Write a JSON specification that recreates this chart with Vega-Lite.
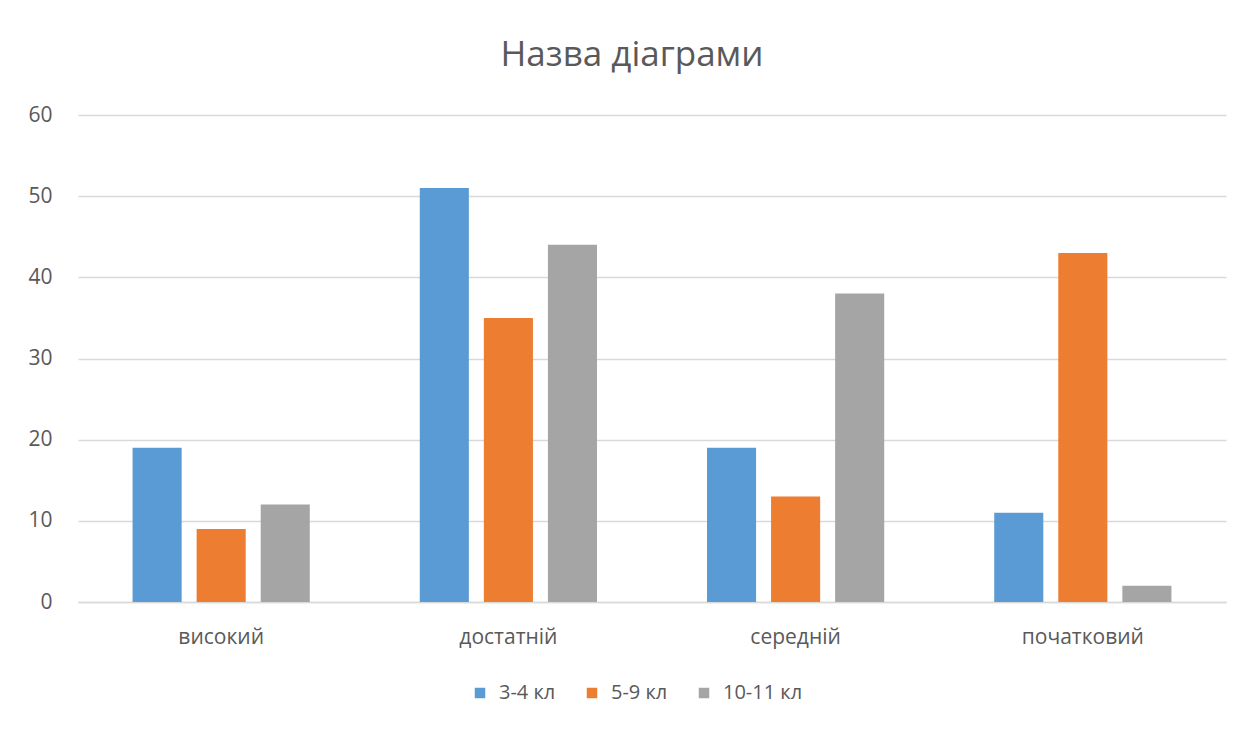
{
  "$schema": "https://vega.github.io/schema/vega-lite/v6.json",
  "autosize": "none",
  "width": 1148,
  "height": 487,
  "padding": {"left": 78, "top": 115, "right": 31, "bottom": 132},
  "background": "white",
  "title": {"text": "Назва діаграми", "fontSize": 35, "font": "Open Sans", "fontWeight": "normal", "color": "#595959", "anchor": "middle", "offset": 31, "dx": -20},
  "data": {"values": [
    {"level": "високий", "group": "3-4 кл", "value": 19},
    {"level": "високий", "group": "5-9 кл", "value": 9},
    {"level": "високий", "group": "10-11 кл", "value": 12},
    {"level": "достатній", "group": "3-4 кл", "value": 51},
    {"level": "достатній", "group": "5-9 кл", "value": 35},
    {"level": "достатній", "group": "10-11 кл", "value": 44},
    {"level": "середній", "group": "3-4 кл", "value": 19},
    {"level": "середній", "group": "5-9 кл", "value": 13},
    {"level": "середній", "group": "10-11 кл", "value": 38},
    {"level": "початковий", "group": "3-4 кл", "value": 11},
    {"level": "початковий", "group": "5-9 кл", "value": 43},
    {"level": "початковий", "group": "10-11 кл", "value": 2}
  ]},
  "mark": {"type": "bar"},
  "encoding": {
    "x": {"field": "level", "type": "nominal", "sort": ["високий", "достатній", "середній", "початковий"],
      "scale": {"paddingInner": 0.383, "paddingOuter": 0.19},
      "axis": {"title": null, "labelAngle": 0, "labelFontSize": 21, "labelFont": "Open Sans", "labelColor": "#595959", "ticks": false, "domainColor": "#d9d9d9", "domainWidth": 1.5, "labelPadding": 24}},
    "xOffset": {"field": "group", "type": "nominal", "sort": ["3-4 кл", "5-9 кл", "10-11 кл"],
      "scale": {"paddingInner": 0.234, "paddingOuter": 0}},
    "y": {"field": "value", "type": "quantitative", "scale": {"domain": [0, 60]},
      "axis": {"title": null, "values": [0, 10, 20, 30, 40, 50, 60], "labelOverlap": false, "labelFontSize": 21, "labelFont": "Open Sans", "labelColor": "#595959", "ticks": false, "domain": false, "gridColor": "#d9d9d9", "gridWidth": 1.5, "labelPadding": 26}},
    "color": {"field": "group", "type": "nominal", "sort": ["3-4 кл", "5-9 кл", "10-11 кл"],
      "scale": {"domain": ["3-4 кл", "5-9 кл", "10-11 кл"], "range": ["#5b9bd5", "#ed7d31", "#a5a5a5"]},
      "legend": {"title": null, "orient": "none", "direction": "horizontal", "legendX": 392, "legendY": 568, "symbolType": "square", "symbolSize": 110, "symbolStrokeWidth": 0, "labelFontSize": 20, "labelFont": "Open Sans", "labelColor": "#595959", "columnPadding": 26, "labelOffset": 9}}
  },
  "config": {"view": {"stroke": null}}
}
